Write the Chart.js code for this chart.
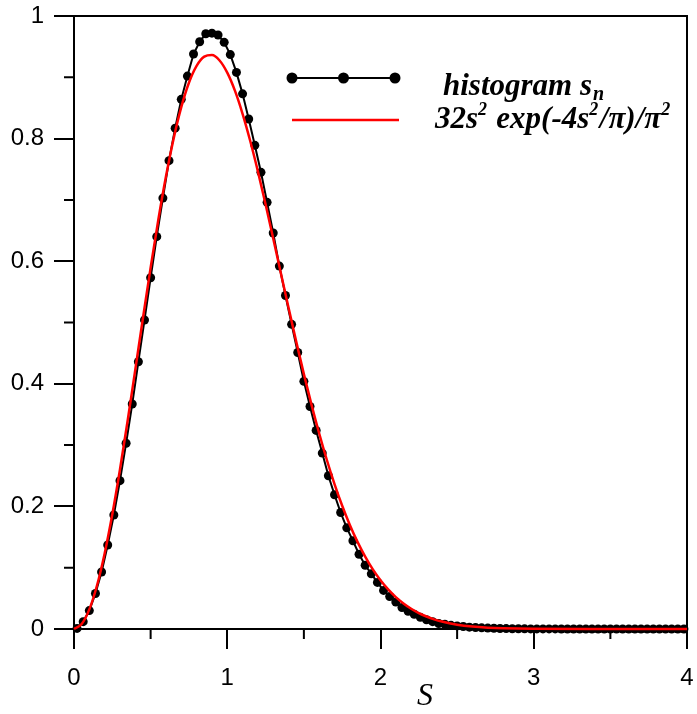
<!DOCTYPE html>
<html>
<head>
<meta charset="utf-8">
<script src="https://cdn.jsdelivr.net/npm/chart.js@4"></script>
<style>
  body { margin: 0; background: #fff; }
  #wrap { width: 697px; height: 714px; }
</style>
</head>
<body>
<div id="wrap"><canvas id="spacingChart"></canvas></div>
<script>
// histogram of level spacings s_n (bin centres)
const histS = [
    0.02, 0.06, 0.10, 0.14, 0.18, 0.22, 0.26, 0.30, 0.34, 0.38,
    0.42, 0.46, 0.50, 0.54, 0.58, 0.62, 0.66, 0.70, 0.74, 0.78,
    0.82, 0.86, 0.90, 0.94, 0.98, 1.02, 1.06, 1.10, 1.14, 1.18,
    1.22, 1.26, 1.30, 1.34, 1.38, 1.42, 1.46, 1.50, 1.54, 1.58,
    1.62, 1.66, 1.70, 1.74, 1.78, 1.82, 1.86, 1.90, 1.94, 1.98,
    2.02, 2.06, 2.10, 2.14, 2.18, 2.22, 2.26, 2.30, 2.34, 2.38,
    2.42, 2.46, 2.50, 2.54, 2.58, 2.62, 2.66, 2.70, 2.74, 2.78,
    2.82, 2.86, 2.90, 2.94, 2.98, 3.02, 3.06, 3.10, 3.14, 3.18,
    3.22, 3.26, 3.30, 3.34, 3.38, 3.42, 3.46, 3.50, 3.54, 3.58,
    3.62, 3.66, 3.70, 3.74, 3.78, 3.82, 3.86, 3.90, 3.94, 3.98
];
const histP = [
    0.001, 0.012, 0.030, 0.058, 0.093, 0.137, 0.186, 0.242, 0.303, 0.367,
    0.436, 0.504, 0.573, 0.640, 0.703, 0.764, 0.817, 0.864, 0.902, 0.938,
    0.958, 0.971, 0.972, 0.969, 0.957, 0.937, 0.908, 0.873, 0.832, 0.789,
    0.745, 0.696, 0.646, 0.592, 0.544, 0.497, 0.451, 0.404, 0.363, 0.324,
    0.287, 0.250, 0.219, 0.190, 0.165, 0.144, 0.122, 0.104, 0.090, 0.076,
    0.063, 0.053, 0.044, 0.035, 0.029, 0.024, 0.019, 0.015, 0.012, 0.009,
    0.0077, 0.006, 0.005, 0.004, 0.003, 0.0024, 0.0019, 0.0015, 0.0012, 0.0009,
    0.0007, 0.0005, 0.0004, 0.0003, 0.0002, 0.0002, 0.0001, 0.0001, 0.0001, 0,
    0, 0, 0, 0, 0, 0, 0, 0, 0, 0,
    0, 0, 0, 0, 0, 0, 0, 0, 0, 0
];

// Wigner surmise curve
const wignerS = [
    0, 0.05, 0.10, 0.15, 0.20, 0.25, 0.30, 0.35, 0.40, 0.45,
    0.50, 0.55, 0.60, 0.65, 0.70, 0.75, 0.80, 0.85, 0.90, 0.95,
    1.00, 1.05, 1.10, 1.15, 1.20, 1.25, 1.30, 1.35, 1.40, 1.45,
    1.50, 1.55, 1.60, 1.65, 1.70, 1.75, 1.80, 1.85, 1.90, 1.95,
    2.00, 2.05, 2.10, 2.15, 2.20, 2.25, 2.30, 2.35, 2.40, 2.50,
    2.60, 2.70, 2.80, 3.00, 3.50, 4.00
];
const wignerP = [
    0, 0.0081, 0.0320, 0.0709, 0.1233, 0.1871, 0.2602, 0.3398, 0.4232, 0.5073,
    0.5896, 0.6673, 0.7381, 0.7999, 0.8513, 0.8911, 0.9186, 0.9337, 0.9364, 0.9274,
    0.9076, 0.8782, 0.8405, 0.7961, 0.7465, 0.6929, 0.6371, 0.5804, 0.5240, 0.4688,
    0.4158, 0.3656, 0.3189, 0.2757, 0.2364, 0.2011, 0.1698, 0.1421, 0.1181, 0.0973,
    0.0796, 0.0647, 0.0521, 0.0417, 0.0331, 0.0260, 0.0204, 0.0158, 0.0122, 0.0071,
    0.0040, 0.0022, 0.0012, 0.0003, 0, 0
];

const xMinor = [0.5, 1.5, 2.5, 3.5];
const yMinor = [0.1, 0.3, 0.5, 0.7, 0.9];

const histPoints = histS.map((s, i) => ({ x: s, y: histP[i] }));
const wignerPoints = wignerS.map((s, i) => ({ x: s, y: wignerP[i] }));

const serif = '"Liberation Serif", "Times New Roman", serif';
const sans = '"Liberation Sans", Arial, sans-serif';

// frame, minor ticks, axis title and the legend are drawn by hand
const decor = {
    id: 'decor',
    beforeDatasetsDraw(chart) {
        const { ctx, chartArea: a, scales: { x, y } } = chart;
        ctx.save();
        ctx.strokeStyle = '#000';
        ctx.lineWidth = 2;
        ctx.strokeRect(a.left, a.top, a.right - a.left, a.bottom - a.top);
        ctx.beginPath();
        xMinor.forEach(v => {
            const px = x.getPixelForValue(v);
            ctx.moveTo(px, a.bottom);
            ctx.lineTo(px, a.bottom + 10);
        });
        yMinor.forEach(v => {
            const py = y.getPixelForValue(v);
            ctx.moveTo(a.left, py);
            ctx.lineTo(a.left - 10, py);
        });
        ctx.stroke();
        ctx.restore();
    },
    afterDraw(chart) {
        const { ctx, scales: { x } } = chart;
        ctx.save();
        ctx.fillStyle = '#000';

        // axis title
        ctx.font = 'italic 32px ' + serif;
        ctx.textAlign = 'center';
        ctx.textBaseline = 'middle';
        ctx.fillText('S', x.getPixelForValue(2.29), 697);

        // legend: histogram
        ctx.strokeStyle = '#000';
        ctx.lineWidth = 2;
        ctx.beginPath();
        ctx.moveTo(292, 78);
        ctx.lineTo(395, 78);
        ctx.stroke();
        [292, 343.5, 395].forEach(cx => {
            ctx.beginPath();
            ctx.arc(cx, 78, 5.5, 0, Math.PI * 2);
            ctx.fill();
        });
        ctx.textAlign = 'left';
        ctx.textBaseline = 'alphabetic';
        ctx.font = 'bold italic 31px ' + serif;
        ctx.fillText('histogram s', 443, 95);
        let w = ctx.measureText('histogram s').width;
        ctx.font = 'bold italic 20px ' + serif;
        ctx.fillText('n', 443 + w + 1, 100);

        // legend: Wigner surmise
        ctx.strokeStyle = '#ff0000';
        ctx.lineWidth = 2.5;
        ctx.beginPath();
        ctx.moveTo(292, 120);
        ctx.lineTo(399, 120);
        ctx.stroke();

        const runs = [
            ['32s', false], ['2', true], [' exp(-4s', false], ['2', true],
            ['/\u03c0)/\u03c0', false], ['2', true]
        ];
        let cx = 435;
        runs.forEach(([txt, sup]) => {
            ctx.font = (sup ? 'bold italic 18px ' : 'bold italic 31px ') + serif;
            ctx.fillText(txt, cx, sup ? 115 : 128);
            cx += ctx.measureText(txt).width + (sup ? 1.5 : 0);
        });
        ctx.restore();
    }
};

new Chart(document.getElementById('spacingChart'), {
    type: 'line',
    data: {
        datasets: [{
            data: histPoints,
            borderColor: '#000',
            backgroundColor: '#000',
            borderWidth: 2,
            pointRadius: 4.5,
            pointBorderWidth: 0,
            fill: false,
            clip: false,
            order: 2
        }, {
            data: wignerPoints,
            borderColor: '#ff0000',
            borderWidth: 2.5,
            pointRadius: 0,
            fill: false,
            cubicInterpolationMode: 'monotone',
            clip: false,
            order: 1
        }]
    },
    options: {
        responsive: true,
        maintainAspectRatio: false,
        animation: false,
        layout: {
            padding: { left: 0, right: 10, top: 16, bottom: 0 }
        },
        scales: {
            x: {
                type: 'linear',
                min: 0,
                max: 4,
                ticks: {
                    stepSize: 1,
                    color: '#000',
                    padding: 15,
                    font: { family: sans, size: 24 }
                },
                grid: {
                    drawOnChartArea: false,
                    drawTicks: true,
                    tickLength: 20,
                    color: '#000',
                    lineWidth: 2
                },
                border: { display: true, color: '#000', width: 2 },
                afterFit: function(scale) {
                    scale.height = 85;
                    scale.paddingLeft = 0;
                    scale.paddingRight = 0;
                }
            },
            y: {
                type: 'linear',
                min: 0,
                max: 1,
                ticks: {
                    stepSize: 0.2,
                    color: '#000',
                    padding: 10,
                    font: { family: sans, size: 24 },
                    callback: function(value) {
                        return String(Math.round(value * 10) / 10);
                    }
                },
                grid: {
                    drawOnChartArea: false,
                    drawTicks: true,
                    tickLength: 20,
                    color: '#000',
                    lineWidth: 2
                },
                border: { display: true, color: '#000', width: 2 },
                afterFit: function(scale) {
                    scale.width = 74;
                    scale.paddingTop = 0;
                    scale.paddingBottom = 0;
                }
            }
        },
        plugins: {
            legend: { display: false },
            tooltip: { enabled: false }
        }
    },
    plugins: [decor]
});
</script>
</body>
</html>
